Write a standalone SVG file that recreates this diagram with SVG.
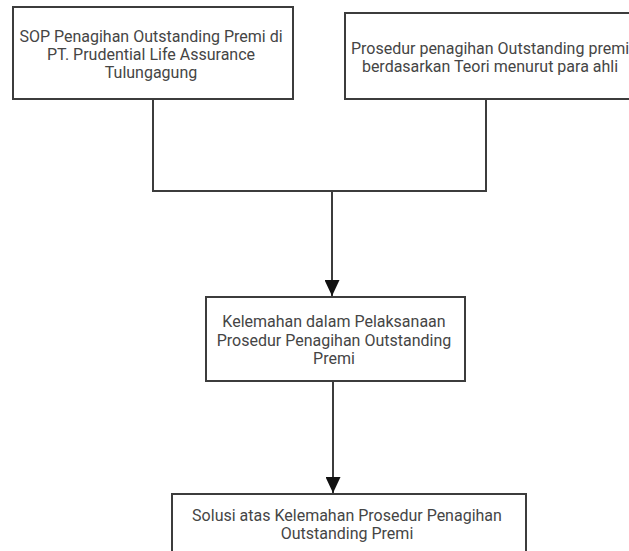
<svg xmlns="http://www.w3.org/2000/svg" width="629" height="551" viewBox="0 0 629 551">
<style>
.box{fill:#fff;stroke:#3c3c3c;stroke-width:2}
.t{font-family:Roboto,"Liberation Sans",sans-serif;font-size:16px;fill:#454545;text-anchor:middle}
.ln{fill:none;stroke:#3c3c3c;stroke-width:2}
</style>
<defs>
<marker id="ah" viewBox="0 0 16 15" refX="16" refY="7.5" markerWidth="16" markerHeight="15" markerUnits="userSpaceOnUse" orient="auto">
<path d="M0,0 L16,7.5 L0,15 Z" fill="#111"/>
</marker>
</defs>
<rect width="629" height="551" fill="#fff"/>
<g id="connectors">
<polyline class="ln" points="153,99 153,191 486,191 486,99"/>
<line class="ln" x1="332" y1="191" x2="332" y2="296" marker-end="url(#ah)"/>
<line class="ln" x1="333" y1="381" x2="333" y2="493" marker-end="url(#ah)"/>
</g>
<g id="node-sop">
<rect class="box" x="13" y="7" width="280" height="92"/>
<text class="t" x="151" y="41.5">SOP Penagihan Outstanding Premi di</text>
<text class="t" x="151" y="59.5">PT. Prudential Life Assurance</text>
<text class="t" x="151" y="77.5">Tulungagung</text>
</g>
<g id="node-teori">
<rect class="box" x="345" y="13" width="295" height="86"/>
<text class="t" x="490" y="54">Prosedur penagihan Outstanding premi</text>
<text class="t" x="490" y="72">berdasarkan Teori menurut para ahli</text>
</g>
<g id="node-kelemahan">
<rect class="box" x="206" y="297" width="259" height="84"/>
<text class="t" x="334" y="327">Kelemahan dalam Pelaksanaan</text>
<text class="t" x="334" y="345.5">Prosedur Penagihan Outstanding</text>
<text class="t" x="334" y="364">Premi</text>
</g>
<g id="node-solusi">
<rect class="box" x="172" y="494" width="354" height="70"/>
<text class="t" x="347" y="521">Solusi atas Kelemahan Prosedur Penagihan</text>
<text class="t" x="347" y="539">Outstanding Premi</text>
</g>
</svg>
